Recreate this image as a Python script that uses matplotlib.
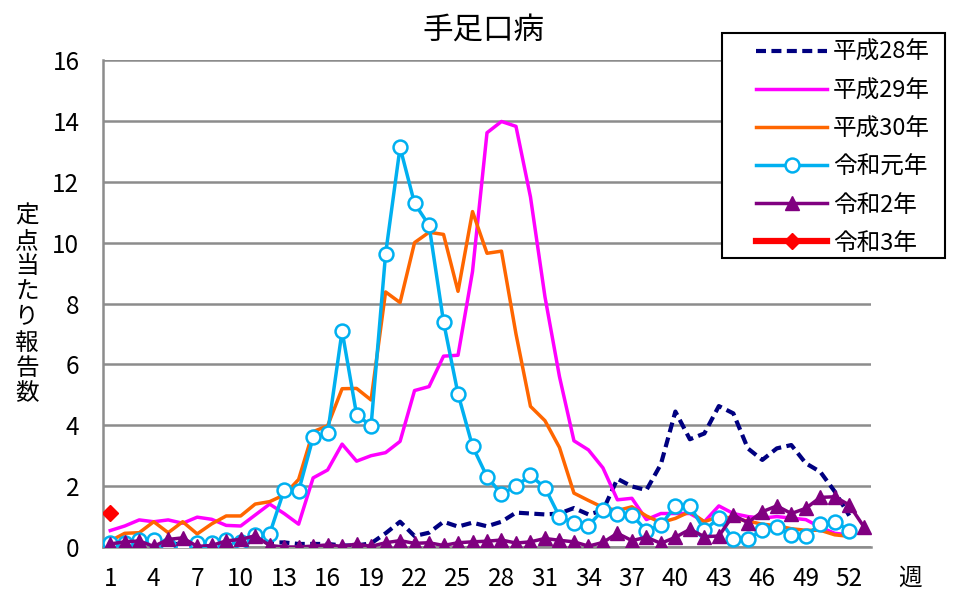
import matplotlib
matplotlib.use("Agg")
import matplotlib.pyplot as plt
from matplotlib.patches import Rectangle

plt.rcParams['font.family'] = ['Noto Sans CJK JP', 'DejaVu Sans']

title = "手足口病"
ylabel = "定点当たり報告数"
xlabel = "週"
series_names = ["平成28年", "平成29年", "平成30年", "令和元年", "令和2年", "令和3年"]
xticks = [1, 4, 7, 10, 13, 16, 19, 22, 25, 28, 31, 34, 37, 40, 43, 46, 49, 52]
yticks = [0, 2, 4, 6, 8, 10, 12, 14, 16]

h28 = [0.1, 0.15, 0.15, 0.1, 0.1, 0.1, 0.1, 0.15, 0.15, 0.2, 0.2, 0.15, 0.15, 0.1, 0.1, 0.1, 0.05, 0.05, 0.12,
       0.45, 0.83, 0.36, 0.47, 0.83, 0.67, 0.8, 0.68, 0.83, 1.13, 1.1, 1.07, 1.1, 1.28, 1.07, 1.2, 2.24, 1.99,
       1.87, 2.72, 4.45, 3.54, 3.73, 4.63, 4.39, 3.24, 2.86, 3.24, 3.35, 2.75, 2.47, 1.82, 1.03]
h29 = [0.54, 0.69, 0.89, 0.83, 0.89, 0.78, 0.98, 0.91, 0.71, 0.69, 1.05, 1.41, 1.1, 0.75, 2.27, 2.53, 3.38,
       2.82, 3.0, 3.1, 3.47, 5.14, 5.27, 6.27, 6.3, 9.05, 13.61, 13.98, 13.82, 11.5, 8.22, 5.6, 3.49, 3.19,
       2.6, 1.55, 1.6, 0.9, 1.1, 1.1, 1.1, 0.83, 1.35, 1.1, 1.0, 0.95, 1.0, 0.95, 0.9, 0.65, 0.45, 0.4]
h30 = [0.2, 0.45, 0.47, 0.83, 0.47, 0.83, 0.43, 0.76, 1.02, 1.02, 1.41, 1.49, 1.71, 2.22, 3.79, 3.98, 5.2,
       5.21, 4.83, 8.38, 8.03, 10.0, 10.34, 10.27, 8.4, 11.02, 9.65, 9.72, 7.0, 4.62, 4.15, 3.27, 1.77, 1.53,
       1.3, 1.2, 1.32, 1.02, 0.8, 0.94, 1.16, 0.83, 1.0, 0.95, 0.85, 0.75, 0.7, 0.6, 0.55, 0.55, 0.4, 0.35]
r1 = [0.14, 0.12, 0.22, 0.23, 0.07, 0.0, 0.12, 0.14, 0.23, 0.18, 0.39, 0.43, 1.87, 1.84, 3.6, 3.73, 7.1,
      4.35, 3.98, 9.62, 13.13, 11.29, 10.57, 7.4, 5.03, 3.31, 2.31, 1.74, 2.0, 2.35, 1.95, 1.0, 0.78, 0.7,
      1.22, 1.08, 1.05, 0.54, 0.72, 1.35, 1.35, 0.56, 0.94, 0.25, 0.25, 0.56, 0.67, 0.39, 0.36, 0.76, 0.83, 0.54]
r2 = [0.1, 0.17, 0.2, 0.02, 0.25, 0.3, 0.02, 0.05, 0.2, 0.25, 0.37, 0.05, 0.0, 0.0, 0.03, 0.07, 0.02, 0.1,
      0.02, 0.14, 0.21, 0.12, 0.14, 0.05, 0.14, 0.17, 0.19, 0.23, 0.13, 0.17, 0.28, 0.22, 0.17, 0.03, 0.15,
      0.45, 0.21, 0.32, 0.12, 0.32, 0.58, 0.34, 0.36, 1.05, 0.8, 1.16, 1.35, 1.1, 1.27, 1.63, 1.65, 1.38, 0.67]
r3 = [1.13]

def weeks(vals):
    return list(range(1, len(vals) + 1))

W, H = 957, 592
fig = plt.figure(figsize=(W / 100, H / 100), dpi=100)
ax = fig.add_axes([103/W, 45/H, 768/W, 487/H])

ax.plot(weeks(h28), h28, color='#000080', lw=3, ls=(0, (2.4, 1.3)), label=series_names[0], zorder=3)
ax.plot(weeks(h29), h29, color='#FF00FF', lw=2.5, label=series_names[1], zorder=3)
ax.plot(weeks(h30), h30, color='#FF6600', lw=2.5, label=series_names[2], zorder=3)
ax.plot(weeks(r1), r1, color='#00B0F0', lw=2.5, marker='o', ms=10, mfc='white', mec='#00B0F0', mew=1.8,
        label=series_names[3], zorder=4)
ax.plot(weeks(r2), r2, color='#800080', lw=2.5, marker='^', ms=10, mfc='#800080', mec='#800080',
        label=series_names[4], zorder=5)
ax.plot(weeks(r3), r3, color='#FF0000', lw=4.5, marker='D', ms=8, mfc='#FF0000', mec='#FF0000',
        label=series_names[5], zorder=6)

ax.set_xlim(0.5, 53.5)
ax.set_ylim(0, 16)
ax.set_xticks(xticks)
ax.set_yticks(yticks)
ax.tick_params(axis='both', length=0, labelsize=17.5)
ax.tick_params(axis='y', pad=17)
ax.tick_params(axis='x', pad=14)
ax.yaxis.grid(True, color='#8c8c8c', lw=1.8)
ax.set_axisbelow(True)
for s in ['top', 'right']:
    ax.spines[s].set_visible(False)
for s in ['left', 'bottom']:
    ax.spines[s].set_color('#8c8c8c')
    ax.spines[s].set_linewidth(1.8)

fig.text(483/W, 1 - 30/H, title, ha='center', va='center', fontsize=22)
fig.text(27/W, 1 - 305/H, "\n".join(ylabel), ha='center', va='center', fontsize=17, linespacing=1.13)
fig.text(910/W, 1 - 578/H, xlabel, ha='center', va='center', fontsize=17)

# legend frame drawn separately
fig.patches.append(Rectangle((722/W, 1 - 258/H), (945 - 722)/W, (258 - 33)/H, transform=fig.transFigure,
                             fill=True, facecolor='white', edgecolor='black', lw=1.5, zorder=10))
leg = fig.legend(loc='upper left', bbox_to_anchor=(749/W, 1 - 34/H), fontsize=17,
                 frameon=False, handlelength=3.0, labelspacing=0.64, borderpad=0.3, handletextpad=0.25,
                 borderaxespad=0)
leg.set_zorder(11)

fig.savefig("out.png", dpi=100)
